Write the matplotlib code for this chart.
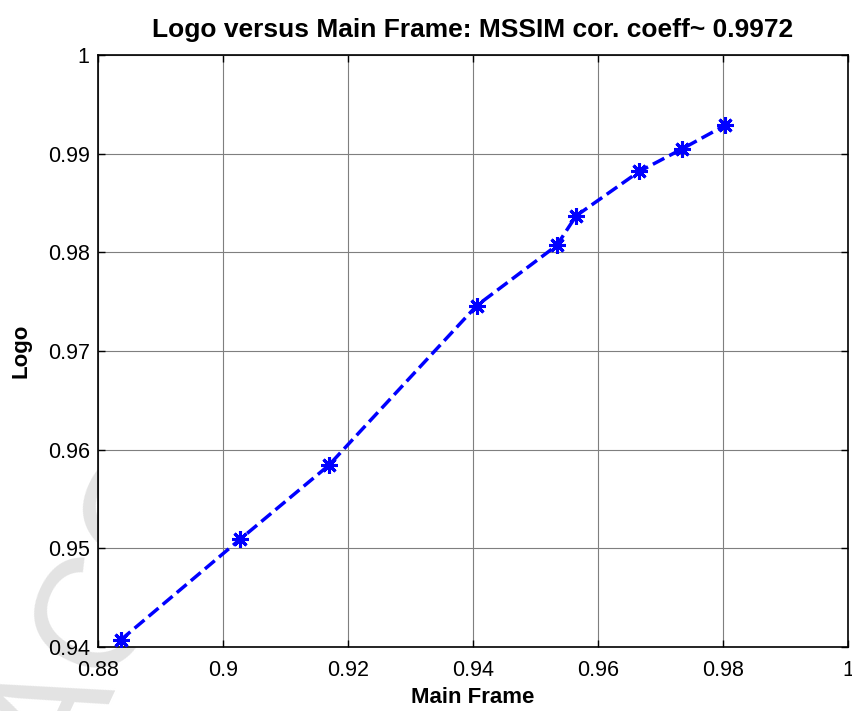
import matplotlib.pyplot as plt
from matplotlib.transforms import Bbox, TransformedBbox

plt.rcParams['font.family'] = ['Liberation Sans', 'DejaVu Sans']

# MSSIM of the main frame vs the logo region
main_frame = [0.8836, 0.9027, 0.9169, 0.9406, 0.9534, 0.9565, 0.9666, 0.9735, 0.9804]
logo = [0.9407, 0.9509, 0.9584, 0.9746, 0.9807, 0.9837, 0.9882, 0.9905, 0.9929]

x_ticks = [0.88, 0.9, 0.92, 0.94, 0.96, 0.98, 1]
x_tick_labels = ['0.88', '0.9', '0.92', '0.94', '0.96', '0.98', '1']
y_ticks = [0.94, 0.95, 0.96, 0.97, 0.98, 0.99, 1]
y_tick_labels = ['0.94', '0.95', '0.96', '0.97', '0.98', '0.99', '1']


fig = plt.figure(figsize=(8.53, 7.11), dpi=100)

# faint journal watermark behind the axes, kept to the lower part of the figure
wm = fig.text(-0.04, -0.125, 'ACCEPTED', rotation=65, fontsize=115,
              color='#e3e3e3', ha='left', va='bottom', zorder=0)
wm.set_clip_box(TransformedBbox(Bbox([[0, 0], [1, 0.8]]), fig.transFigure))

ax = fig.add_axes([0.1149, 0.09, 0.8792, 0.8326])
ax.set_zorder(1)
ax.set_facecolor('white')

ax.plot(main_frame, logo, color='#0000ff', linestyle='--', linewidth=2.5,
        marker=(8, 2, 0), markersize=12, markeredgewidth=2.2, zorder=3)

ax.set_xlim(0.88, 1)
ax.set_ylim(0.94, 1)
ax.set_xticks(x_ticks)
ax.set_xticklabels(x_tick_labels)
ax.set_yticks(y_ticks)
ax.set_yticklabels(y_tick_labels)
ax.tick_params(direction='in', top=True, right=True, length=5, width=1,
               labelsize=15.5, pad=6)
ax.tick_params(axis='x', pad=9)

ax.grid(True, color='#7f7f7f', linewidth=0.8, linestyle='-')
for s in ax.spines.values():
    s.set_linewidth(1.2)

ax.set_title('Logo versus Main Frame: MSSIM cor. coeff~ 0.9972',
             fontsize=19, fontweight='bold', pad=13)
ax.set_xlabel('Main Frame', fontsize=16, fontweight='bold', labelpad=5)
ax.set_ylabel('Logo', fontsize=16, fontweight='bold', labelpad=12)

fig.savefig('out.png', dpi=100)
